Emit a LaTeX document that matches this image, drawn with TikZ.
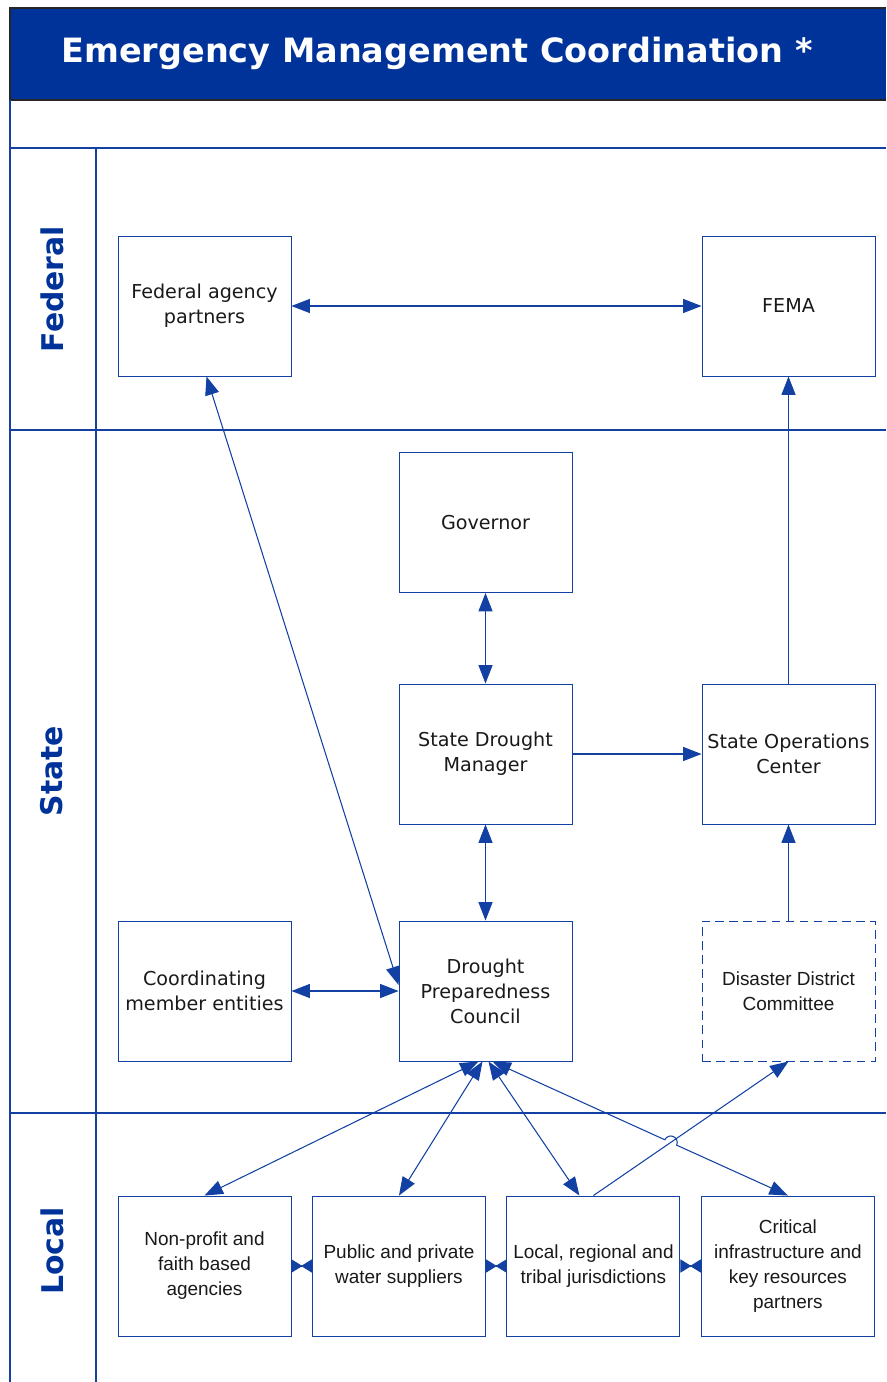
\documentclass[tikz,border=0pt]{standalone}
\usepackage{fontspec}
\setmainfont{DejaVu Sans}
\newfontfamily\arialfont{Liberation Sans}
\usetikzlibrary{arrows.meta,calc,intersections}
\definecolor{bandblue}{HTML}{003399}
\definecolor{laneblue}{HTML}{1241A3}

\begin{document}
\begin{tikzpicture}[x=0.02cm, y=-0.02cm, node distance=3.89cm,
  box/.style={draw=laneblue, line width=0.55pt, minimum width=3.46cm, minimum height=2.8cm, inner sep=1pt, align=center, text=black!90, font=\fontsize{10.9}{14.2}\selectfont},
  abox/.style={box, font=\arialfont\fontsize{10.8}{14.2}\selectfont},
  lanelabel/.style={rotate=90, text=bandblue, font=\bfseries\fontsize{17}{20}\selectfont},
  lane/.style={draw=laneblue, line width=0.8pt},
  link/.style={draw=laneblue, line width=0.6pt, {Triangle[length=10.5pt,width=8pt]}-{Triangle[length=10.5pt,width=8pt]}},
  onelink/.style={draw=laneblue, line width=0.6pt, -{Triangle[length=10.5pt,width=8pt]}},
  gaplink/.style={draw=laneblue, line width=0.6pt, {Triangle[reversed,length=6.2pt,width=7.5pt]}-{Triangle[reversed,length=6.2pt,width=7.5pt]}}]
  \useasboundingbox (0,0) rectangle (886,1382);

  % title band and swimlanes
  \fill[bandblue] (10,8) rectangle (886,100);
  \draw[black!85, line width=0.8pt] (886,8) -- (10,8) -- (10,100) -- (886,100);
  \node[text=white, font=\bfseries\fontsize{19.05}{22}\selectfont] (title) at (437,53) {Emergency Management Coordination *};
  \draw[lane] (10,100) -- (10,1382);
  \draw[lane] (96,148) -- (96,1382);
  \draw[lane] (10,148) -- (886,148);
  \draw[lane] (10,430) -- (886,430);
  \draw[lane] (10,1113) -- (886,1113);
  \node[lanelabel] (fedlabel) at (52,289) {Federal};
  \node[lanelabel] (statelabel) at (52,771) {State};
  \node[lanelabel] (locallabel) at (52,1251) {Local};

  % federal
  \node[box] (fap) at (204.5,306) {Federal agency\\partners};
  \node[box] (fema) at (788.5,306) {FEMA};
  % state
  \node[box] (gov) at (485.5,522.5) {Governor};
  \node[box] (sdm) at (485.5,754) {State Drought\\Manager};
  \node[box] (soc) at (788.5,754) {State Operations\\Center};
  \node[box] (cme) at (204.5,991) {Coordinating\\member entities};
  \node[box] (dpc) at (485.5,991) {Drought\\Preparedness\\Council};
  \node[abox, dash pattern=on 5pt off 3pt] (ddc) at (788.5,991) {Disaster District\\Committee};
  % local
  \node[abox] (npo) at (204.5,1266) {Non-profit and\\faith based\\agencies};
  \node[abox, right of=npo] (pws) {Public and private\\water suppliers};
  \node[abox, right of=pws] (lrt) {Local, regional and\\tribal jurisdictions};
  \node[abox, right of=lrt] (cik) {Critical\\infrastructure and\\key resources\\partners};

  \draw[link] (fap) -- (fema);
  \draw[link] ($(fap.south)+(2,0)$) -- ($(dpc.west)+(0,-6)$);
  \draw[link] (gov) -- (sdm);
  \draw[link] (sdm) -- (dpc);
  \draw[onelink] (sdm) -- (soc);
  \draw[onelink] (soc) -- (fema);
  \draw[onelink] (ddc) -- (soc);
  \draw[link] (cme) -- (dpc);
  \draw[link] ($(dpc.south)+(-7,0)$) -- (npo.north);
  \draw[link] ($(dpc.south)+(-3,0)$) -- (pws.north);
  \draw[link] ($(dpc.south)+(3,0)$) -- ($(lrt.north)+(-14,0)$);
  \draw[onelink, name path=crosspath] (lrt.north) -- (ddc.south);
  \path[name path=critpath] ($(dpc.south)+(7,0)$) -- (cik.north);
  \path[name intersections={of=crosspath and critpath, by=hop}];
  \draw[link] ($(dpc.south)+(7,0)$) -- ($(hop)!0.13cm!(dpc.south)$)
    arc[start angle=155.6, end angle=-24.4, radius=0.13cm] -- (cik.north);
  \draw[gaplink] (npo) -- (pws);
  \draw[gaplink] (pws) -- (lrt);
  \draw[gaplink] (lrt) -- (cik);
\end{tikzpicture}
\end{document}
